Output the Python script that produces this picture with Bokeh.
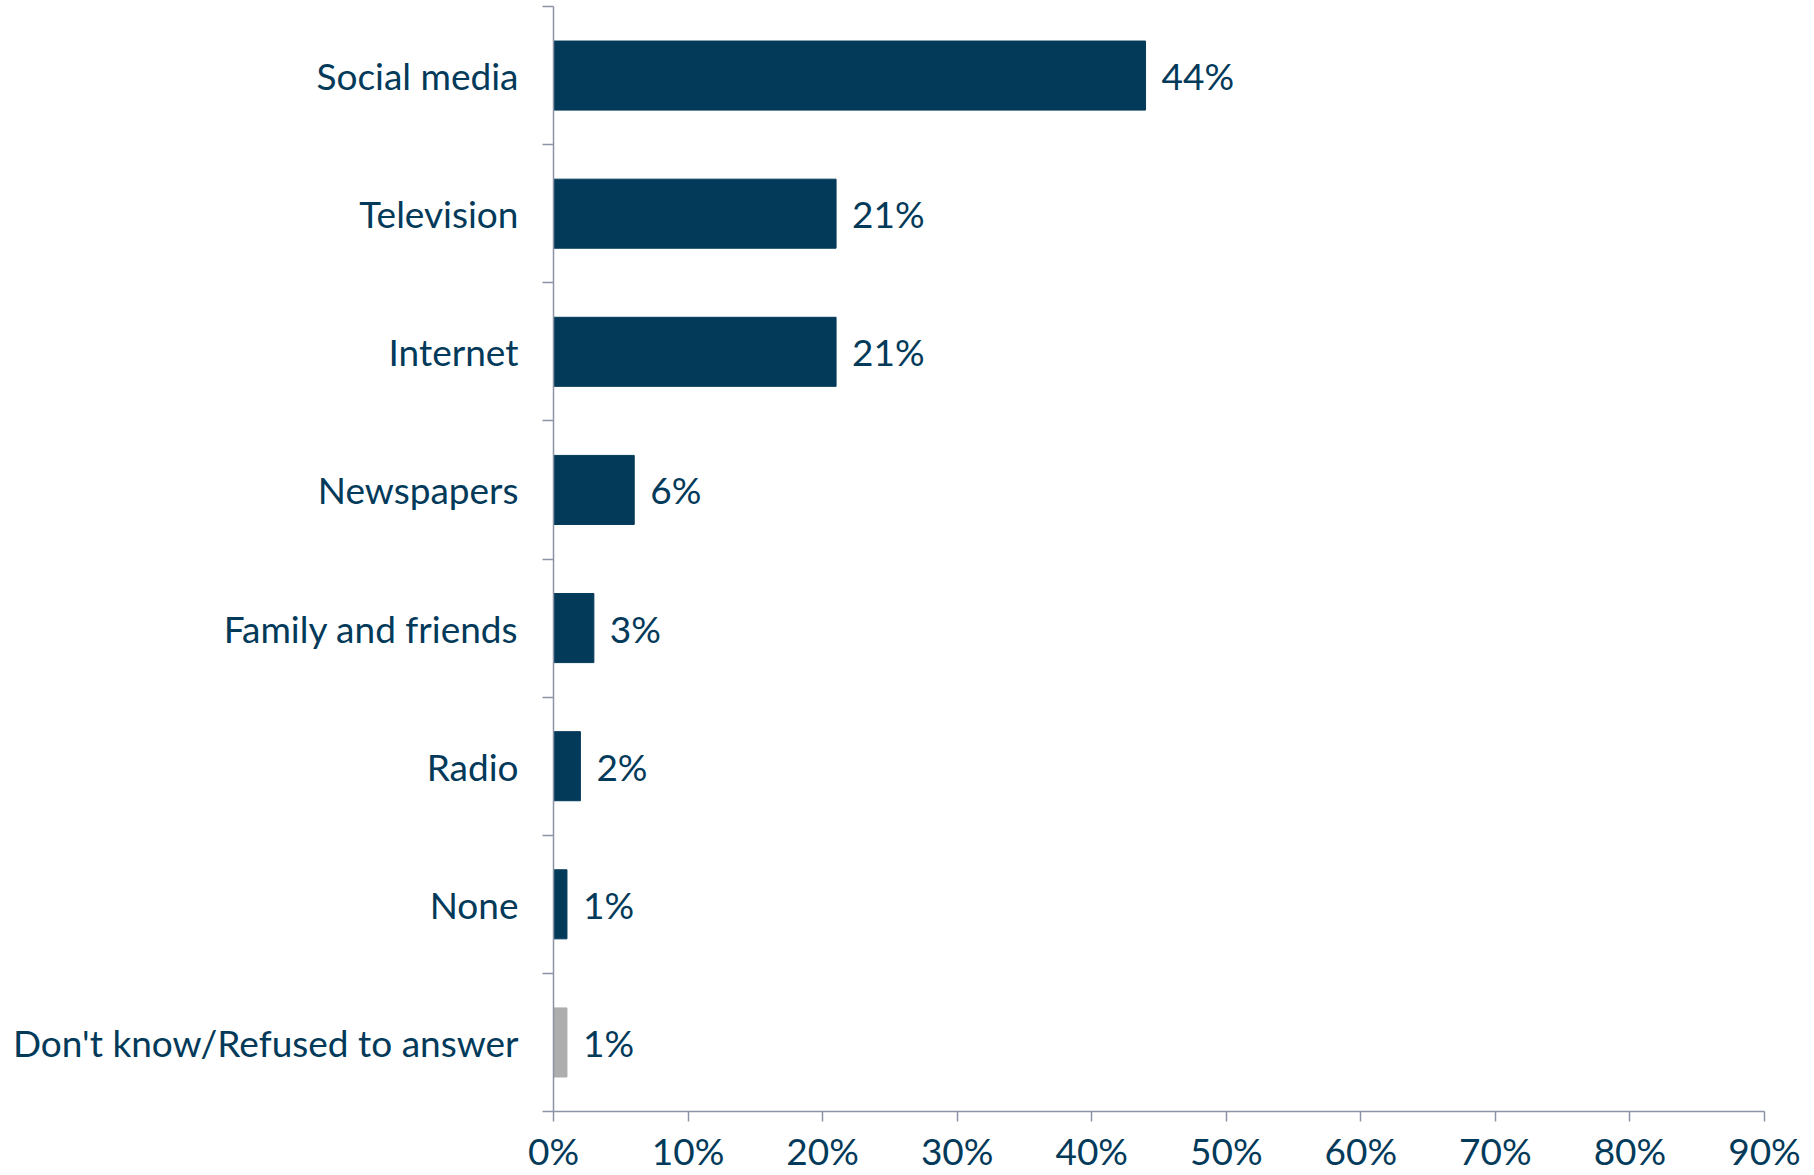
from bokeh.plotting import figure
from bokeh.models import ColumnDataSource, FixedTicker, PrintfTickFormatter, Range1d
from bokeh.core.properties import value
from bokeh.embed import file_html
from bokeh.resources import INLINE

categories = ["Social media", "Television", "Internet", "Newspapers",
              "Family and friends", "Radio", "None", "Don't know/Refused to answer"]
values = [44, 21, 21, 6, 3, 2, 1, 1]
bar_colors = ["#033a5a"] * 7 + ["#adadad"]
x_ticks = [0, 10, 20, 30, 40, 50, 60, 70, 80, 90]

NAVY = "#033a5a"
AXIS = "#8a94a6"
FONT = "Lato"
FS = "37px"

n = len(categories)
centers = [n - 0.5 - i for i in range(n)]
labels = [f"{v}%" for v in values]

src = ColumnDataSource(dict(cat=categories, val=values, y=centers, color=bar_colors, lab=labels))

p = figure(width=1814, height=1175, output_backend="svg", toolbar_location=None,
           x_range=Range1d(0, 90), y_range=Range1d(0, n),
           min_border_left=553, min_border_right=50, min_border_top=6, min_border_bottom=64)
p.outline_line_color = None
p.xgrid.visible = False
p.ygrid.visible = False
p.background_fill_color = "white"
p.border_fill_color = "white"

p.hbar(y="y", right="val", left=0, height=0.5, color="color", source=src)
p.text(x="val", y="y", text="lab", source=src, x_offset=16, text_baseline="middle",
       text_align="left", text_font=value(FONT), text_font_size=FS, text_color=NAVY)

# x axis
xa = p.xaxis[0]
xa.ticker = FixedTicker(ticks=x_ticks)
xa.formatter = PrintfTickFormatter(format="%d%%")
xa.axis_line_color = AXIS
xa.axis_line_width = 1.5
xa.major_tick_line_color = AXIS
xa.major_tick_line_width = 1.5
xa.major_tick_out = 10
xa.major_tick_in = 0
xa.minor_tick_line_color = None
xa.minor_tick_out = 0
xa.minor_tick_in = 0
xa.major_label_text_font = FONT
xa.major_label_text_font_size = FS
xa.major_label_text_color = NAVY
xa.major_label_standoff = 6

# y axis: labels at bar centres, tick marks at category boundaries
ya = p.yaxis[0]
ya.ticker = FixedTicker(ticks=centers, minor_ticks=list(range(n + 1)))
ya.major_label_overrides = {c: name for c, name in zip(centers, categories)}
ya.axis_line_color = AXIS
ya.axis_line_width = 1.5
ya.major_tick_line_color = None
ya.major_tick_out = 0
ya.major_tick_in = 0
ya.minor_tick_line_color = AXIS
ya.minor_tick_line_width = 1.5
ya.minor_tick_out = 11
ya.minor_tick_in = 0
ya.major_label_text_font = FONT
ya.major_label_text_font_size = FS
ya.major_label_text_color = NAVY
ya.major_label_standoff = 24

open("out.html", "w").write(file_html(p, INLINE))
